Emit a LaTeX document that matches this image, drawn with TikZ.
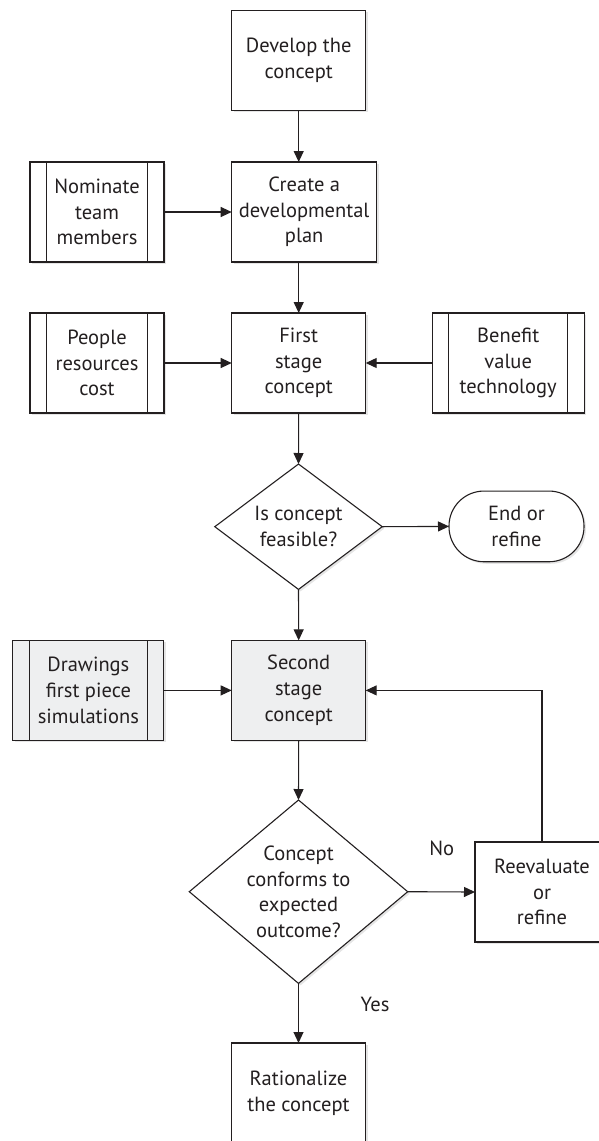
\documentclass[tikz,border=0pt]{standalone}
\usepackage{fontspec}
\setmainfont{PT Sans}
\usetikzlibrary{arrows.meta,shapes.geometric,shadows}
\definecolor{ink}{HTML}{231F20}
\definecolor{panel}{HTML}{EEEFF0}
\begin{document}
\begin{tikzpicture}[x=1pt,y=-1pt,
  every node/.style={font=\fontsize{20.5}{25.7}\selectfont, text=ink, align=center, inner sep=0pt, outer sep=0pt},
  soft shadow/.style={general shadow={fill=black!10, shadow xshift=2pt, shadow yshift=-2pt}},
  stepbox/.style={draw=ink, line width=1.1pt, fill=white, minimum width=134pt, minimum height=100pt, soft shadow},
  inputbox/.style={stepbox, path picture={
      \draw[ink, line width=1.1pt]
        ([xshift=16.7pt]path picture bounding box.north west) -- ([xshift=16.7pt]path picture bounding box.south west)
        ([xshift=-16.7pt]path picture bounding box.north east) -- ([xshift=-16.7pt]path picture bounding box.south east);}},
  decision/.style={diamond, draw=ink, line width=1.1pt, fill=white, inner xsep=-20pt, inner ysep=-20pt, soft shadow},
  terminal/.style={draw=ink, line width=1.1pt, fill=white, rounded corners=35pt, minimum width=135pt, minimum height=70.7pt, soft shadow},
  flow/.style={draw=ink, line width=1.1pt, -{Triangle[length=11pt,width=10pt]}},
  tag/.style={}
]
\useasboundingbox (0,0) rectangle (599,1141);

% main column
\node[stepbox] (dev) at (298.7,60.4) {Develop the\\concept};
\node[stepbox, minimum width=145pt] (plan) at (304.2,212) {Create a\\developmental\\plan};
\node[stepbox] (first) at (298.7,363) {First\\stage\\concept};
\node[decision, minimum width=167.4pt, minimum height=125.4pt] (feas) at (298.5,526.7) {Is concept\\feasible?};
\node[stepbox, fill=panel] (second) at (298.7,690.4) {Second\\stage\\concept};
\node[decision, minimum width=218.4pt, minimum height=183.4pt] (conf) at (298.5,891.7) {Concept\\conforms to\\expected\\outcome?};
\node[stepbox] (rat) at (298.5,1093) {Rationalize\\the concept};

% side inputs
\node[inputbox] (nom) at (97,212) {Nominate\\team\\members};
\node[inputbox] (ppl) at (97,363) {People\\resources\\cost};
\node[inputbox, minimum width=152pt] (ben) at (508.2,363) {Benefit\\value\\technology};
\node[inputbox, minimum width=151pt, fill=panel] (drw) at (88.4,690.4) {Drawings\\first piece\\simulations};

% outcomes
\node[terminal] (endr) at (516.5,526.4) {End or\\refine};
\node[stepbox] (rev) at (542,892) {Reevaluate\\or\\refine};

% branch labels
\node[tag] (no) at (441.7,848.3) {No};
\node[tag] (yes) at (375,1004) {Yes};

% connectors
\draw[flow] (dev.south) -- (dev.south |- plan.north);
\draw[flow] (first.north |- plan.south) -- (first.north);
\draw[flow] (nom.east) -- (plan.west);
\draw[flow] (ppl.east) -- (first.west);
\draw[flow] (ben.west) -- (first.east);
\draw[flow] (first.south) -- (feas.north);
\draw[flow] (feas.east) -- (endr.west);
\draw[flow] (feas.south) -- (second.north);
\draw[flow] (drw.east) -- (second.west);
\draw[flow] (second.south) -- (conf.north);
\draw[flow] (conf.east) -- (rev.west);
\draw[flow] (conf.south) -- (rat.north);
\draw[flow] (rev.north) |- (second.east);
\end{tikzpicture}
\end{document}
